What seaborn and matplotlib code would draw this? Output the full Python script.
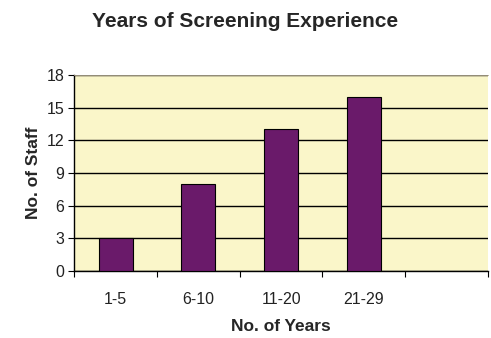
import pandas as pd
import matplotlib
matplotlib.use("Agg")
import matplotlib.pyplot as plt
import seaborn as sns

years = ["1-5", "6-10", "11-20", "21-29"]
staff = [3, 8, 13, 16]

df = pd.DataFrame({"years": years, "staff": staff})

sns.set_style("white")
plt.rcParams['font.family'] = ['Liberation Sans', 'DejaVu Sans']

fig = plt.figure(figsize=(4.91, 3.38), dpi=100)
ax = fig.add_axes([0.151, 0.198, 0.843, 0.58])
ax.set_facecolor("#faf6c9")

sns.barplot(data=df, x="years", y="staff", color="#6a1a6a", saturation=1,
            width=0.41, edgecolor="black", linewidth=0.8, ax=ax, zorder=3)

ax.set_xlim(-0.5, 4.5)
ax.set_ylim(0, 18)
ax.set_yticks(range(0, 19, 3))
ax.yaxis.grid(True, color="black", linewidth=1)
ax.set_axisbelow(True)

# tick marks sit between the categories
ax.set_xticks([i + 0.5 for i in range(-1, 5)], minor=True)
ax.tick_params(axis="x", which="major", bottom=False, length=0, pad=15, labelsize=11.5,
               labelcolor="#222222")
ax.tick_params(axis="x", which="minor", bottom=True, length=4, width=0.8, color="black",
               direction="out")
ax.tick_params(axis="y", left=True, length=4, width=0.8, color="black", direction="out",
               labelsize=11.5, labelcolor="#222222", pad=3)

for s in ["left", "bottom"]:
    ax.spines[s].set_color("black")
    ax.spines[s].set_linewidth(1)
ax.spines["top"].set_color("#b0a890")
ax.spines["top"].set_linewidth(0.6)
ax.spines["right"].set_visible(False)

ax.set_xlabel("No. of Years", fontsize=12.5, fontweight="bold", labelpad=9)
ax.set_ylabel("No. of Staff", fontsize=12.5, fontweight="bold", labelpad=4)
fig.suptitle("Years of Screening Experience", x=0.5, y=0.965, fontsize=15, fontweight="bold")

fig.savefig("out.png", dpi=100)
